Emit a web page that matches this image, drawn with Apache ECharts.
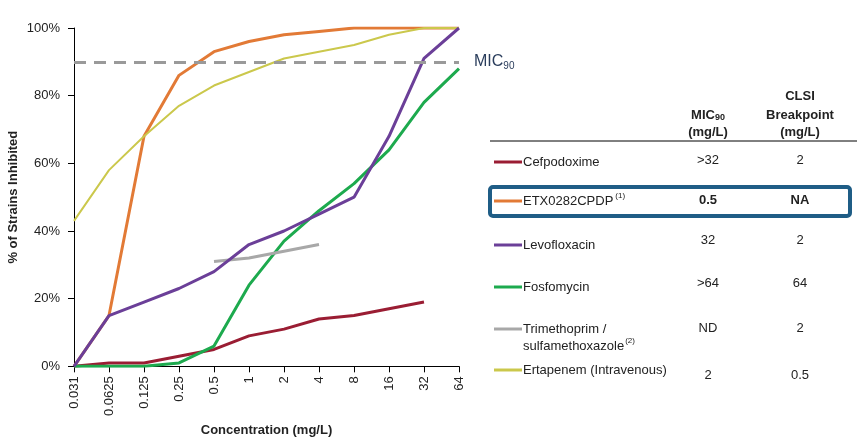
<!DOCTYPE html>
<html>
<head>
<meta charset="utf-8">
<script src="https://cdn.jsdelivr.net/npm/echarts@6/dist/echarts.min.js"></script>
<style>html,body{margin:0;padding:0;background:#fff}#c{width:860px;height:442px}</style>
</head>
<body>
<div id="c"></div>
<script>
const categories = ['0.031','0.0625','0.125','0.25','0.5','1','2','4','8','16','32','64'];
const cefpodoxime = [0, 1, 1, 3, 5, 9, 11, 14, 15, 17, 19, null];
const etx = [0, 15, 68, 86, 93, 96, 98, 99, 100, 100, 100, 100];
const levofloxacin = [0, 15, 19, 23, 28, 36, 40, 45, 50, 68, 91, 100];
const fosfomycin = [0, 0, 0, 1, 6, 24, 37, 46, 54, 64, 78, 88];
const trimethoprim = [null, null, null, null, 31, 32, 34, 36, null, null, null, null];
const ertapenem = [43, 58, 68, 77, 83, 87, 91, 93, 95, 98, 100, 100];
const yTicks = [0, 20, 40, 60, 80, 100];
const mic90Line = 90;
const seriesNames = ['Cefpodoxime','ETX0282CPDP','Levofloxacin','Fosfomycin','Trimethoprim / sulfamethoxazole','Ertapenem (Intravenous)'];
const colors = ['#9a1d33','#e27a36','#6b3f98','#1daa4e','#a8a8a8','#cbc84c'];
const micValues = ['>32','0.5','32','>64','ND','2'];
const clsiValues = ['2','NA','2','64','2','0.5'];

const chart = echarts.init(document.getElementById('c'));
const allData = [cefpodoxime, etx, levofloxacin, fosfomycin, trimethoprim, ertapenem];
const widths = [3, 3, 3, 3, 3, 2];
const series = allData.map((d, i) => ({
  name: seriesNames[i], type: 'line', data: d, symbol: 'none',
  lineStyle: { color: colors[i], width: widths[i] },
  itemStyle: { color: colors[i] }, connectNulls: false, z: 3 + (i === 2 ? 1 : 0)
}));
series.push({
  type: 'line', data: [], markLine: {
    silent: true, symbol: 'none',
    lineStyle: { color: '#9a9a9a', type: [12, 8], width: 3 },
    label: { position: 'end', distance: 15, formatter: 'MIC{s|90}', color: '#2a3d5c', fontSize: 16, fontFamily: 'Liberation Sans',
      rich: { s: { fontSize: 10, verticalAlign: 'bottom', padding: [8, 0, 0, 0], color: '#2a3d5c' } } },
    data: [{ yAxis: mic90Line }]
  }
});

const ctxt = (x, y, text, opts = {}) => ({
  type: 'text', x, y,
  style: Object.assign({ text, fill: '#222', fontSize: 13, fontFamily: 'Liberation Sans', align: 'center', verticalAlign: 'middle' }, opts)
});

const rowY = [162, 201, 245, 287, 329, 370];
const valY = [160, 200, 240, 283, 328, 375];
const graphics = [];
graphics.push({ type: 'line', shape: { x1: 490, y1: 141, x2: 857, y2: 141 }, style: { stroke: '#000', lineWidth: 1 } });
graphics.push({ type: 'text', x: 708, y: 115, style: { text: 'MIC{s|90}', fill: '#222', font: 'bold 13px Liberation Sans', align: 'center', verticalAlign: 'middle',
  rich: { s: { fontSize: 9, fontWeight: 'bold', fontFamily: 'Liberation Sans', verticalAlign: 'bottom', padding: [6,0,0,0] } } } });
graphics.push(ctxt(708, 132, '(mg/L)', { fontWeight: 'bold' }));
graphics.push(ctxt(800, 96, 'CLSI', { fontWeight: 'bold' }));
graphics.push(ctxt(800, 115, 'Breakpoint', { fontWeight: 'bold' }));
graphics.push(ctxt(800, 132, '(mg/L)', { fontWeight: 'bold' }));
graphics.push({ type: 'rect', shape: { x: 490, y: 187, width: 360, height: 29, r: 3 }, style: { fill: 'none', stroke: '#1f5d86', lineWidth: 4 } });
seriesNames.forEach((n, i) => {
  graphics.push({ type: 'line', shape: { x1: 494, y1: rowY[i], x2: 522, y2: rowY[i] }, style: { stroke: colors[i], lineWidth: 3 } });
  if (i === 1) {
    graphics.push({ type: 'text', x: 523, y: rowY[i], style: { text: 'ETX0282CPDP{s|(1)}', fill: '#222', fontSize: 13, fontFamily: 'Liberation Sans', verticalAlign: 'middle',
      rich: { s: { fontSize: 8, verticalAlign: 'top', padding: [0,0,10,2], fontFamily: 'Liberation Sans' } } } });
  } else if (i === 4) {
    graphics.push({ type: 'text', x: 523, y: rowY[i], style: { text: 'Trimethoprim /', fill: '#222', fontSize: 13, fontFamily: 'Liberation Sans', verticalAlign: 'middle' } });
    graphics.push({ type: 'text', x: 523, y: rowY[i] + 17, style: { text: 'sulfamethoxazole{s|(2)}', fill: '#222', fontSize: 13, fontFamily: 'Liberation Sans', verticalAlign: 'middle',
      rich: { s: { fontSize: 8, verticalAlign: 'top', padding: [0,0,10,1], fontFamily: 'Liberation Sans' } } } });
  } else {
    graphics.push({ type: 'text', x: 523, y: rowY[i], style: { text: n, fill: '#222', fontSize: 13, fontFamily: 'Liberation Sans', verticalAlign: 'middle' } });
  }
  const bold = i === 1 ? { fontWeight: 'bold' } : {};
  graphics.push(ctxt(708, valY[i], micValues[i], bold));
  graphics.push(ctxt(800, valY[i], clsiValues[i], bold));
});

chart.setOption({
  animation: false,
  grid: { left: 74, right: 401, top: 28, bottom: 69, containLabel: false },
  xAxis: {
    type: 'category', data: categories, boundaryGap: false,
    name: 'Concentration (mg/L)', nameLocation: 'middle', nameGap: 52,
    nameTextStyle: { fontWeight: 'bold', fontSize: 13, color: '#222', fontFamily: 'Liberation Sans' },
    axisLine: { lineStyle: { color: '#000', width: 1 } },
    axisTick: { alignWithLabel: true, length: 6, lineStyle: { color: '#000' } },
    axisLabel: { rotate: 90, interval: 0, fontSize: 13, color: '#222', margin: 10, fontFamily: 'Liberation Sans' },
    splitLine: { show: false }
  },
  yAxis: {
    type: 'value', min: 0, max: 100, interval: 20,
    name: '% of Strains Inhibited', nameLocation: 'middle', nameGap: 54,
    nameTextStyle: { fontWeight: 'bold', fontSize: 13, color: '#222', fontFamily: 'Liberation Sans' },
    axisLine: { show: true, lineStyle: { color: '#000', width: 1 } },
    axisTick: { show: true, length: 6, lineStyle: { color: '#000' } },
    axisLabel: { formatter: v => yTicks.includes(v) ? v + '%' : '', fontSize: 13, color: '#222', margin: 14, fontFamily: 'Liberation Sans' },
    splitLine: { show: false }
  },
  series,
  graphic: graphics
});
</script>
</body>
</html>
